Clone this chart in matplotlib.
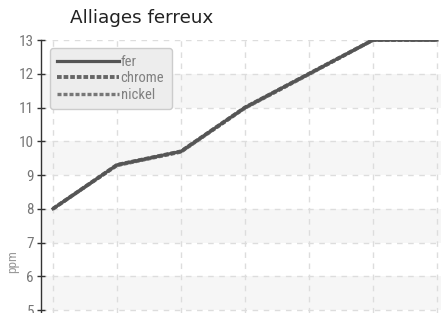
import matplotlib
matplotlib.use("Agg")
import matplotlib.pyplot as plt
from matplotlib import font_manager as fm

# ---- data ----
x_vals = [1, 2, 3, 4, 5, 6, 7]
fer = [8, 9.3, 9.7, 11, 12, 13, 13]
chrome = [8, 9.3, 9.7, 11, 12, 13, 13]
nickel = [8, 9.28, 9.68, 10.98, 11.98, 13, 13]
series_names = ["fer", "chrome", "nickel"]
y_ticks = [5, 6, 7, 8, 9, 10, 11, 12, 13]
title = "Alliages ferreux"
y_label = "ppm"

names = {f.name for f in fm.fontManager.ttflist}
cond_candidates = ["Roboto Condensed", "Liberation Sans Narrow", "Open Sans Condensed",
                   "DejaVu Sans Condensed"]
cond = next((n for n in cond_candidates if n in names), None)
if cond is None:
    cond_prop = fm.FontProperties(family="DejaVu Sans", stretch="condensed")
else:
    cond_prop = fm.FontProperties(family=cond)

def cp(size):
    p = cond_prop.copy()
    p.set_size(size)
    return p

W, H = 441, 313
fig = plt.figure(figsize=(W / 100, H / 100), dpi=100)
left_px, top_px = 41, 40
ax = fig.add_axes([left_px / W, 0, 1 - left_px / W, (H - top_px) / H])

px_per_unit = 33.75
ax.set_ylim(13 - (H - top_px) / px_per_unit, 13)
ax.set_xlim(1 - 12 / 64, 7 + 4 / 64)

for lo in (5, 7, 9, 11):
    ax.axhspan(lo, lo + 1, color="#f6f6f6", zorder=0, lw=0)

ax.set_yticks(y_ticks)
ax.set_xticks(x_vals)
ax.grid(True, color="#dddddd", linestyle=(0, (4, 4)), linewidth=1, zorder=1)
ax.tick_params(axis="x", length=0, labelbottom=False)
ax.tick_params(axis="y", direction="inout", length=6, width=1, color="#333333",
               labelcolor="#777777", pad=2)
for lab in ax.get_yticklabels():
    lab.set_fontproperties(cp(11))
for s in ("top", "right", "bottom"):
    ax.spines[s].set_visible(False)
ax.spines["left"].set_color("#333333")
ax.spines["left"].set_linewidth(1)

c = "#555555"
ax.plot(x_vals, nickel, color="#777777", lw=2.4, zorder=3, label=series_names[2],
        linestyle=(0, (1.2, 0.6)))
ax.plot(x_vals, chrome, color="#666666", lw=2.8, zorder=4, label=series_names[1],
        linestyle=(0, (1.2, 0.5)))
ax.plot(x_vals, fer, color=c, lw=2.3, zorder=5, label=series_names[0])

handles, labels = ax.get_legend_handles_labels()
order = [2, 1, 0]
leg = ax.legend([handles[i] for i in order], [labels[i] for i in order],
                loc="upper left", bbox_to_anchor=((50 - left_px) / (W - left_px), 1 - 8 / (H - top_px)),
                handlelength=4.2, handletextpad=0.15, labelspacing=0.15,
                borderpad=0.5, borderaxespad=0, frameon=True, fancybox=True,
                prop=cp(10.5))
leg.get_frame().set_facecolor("#ededed")
leg.get_frame().set_edgecolor("#cccccc")
leg.get_frame().set_alpha(1)
for t in leg.get_texts():
    t.set_color("#808080")

fig.text(70 / W, 1 - 18 / H, title, fontsize=13.2, color="#222222", va="center", ha="left")
fig.text(13 / W, 1 - 262 / H, y_label, rotation=90, color="#999999",
         va="center", ha="center", fontproperties=cp(9.5))

fig.savefig("out.png", dpi=100)
